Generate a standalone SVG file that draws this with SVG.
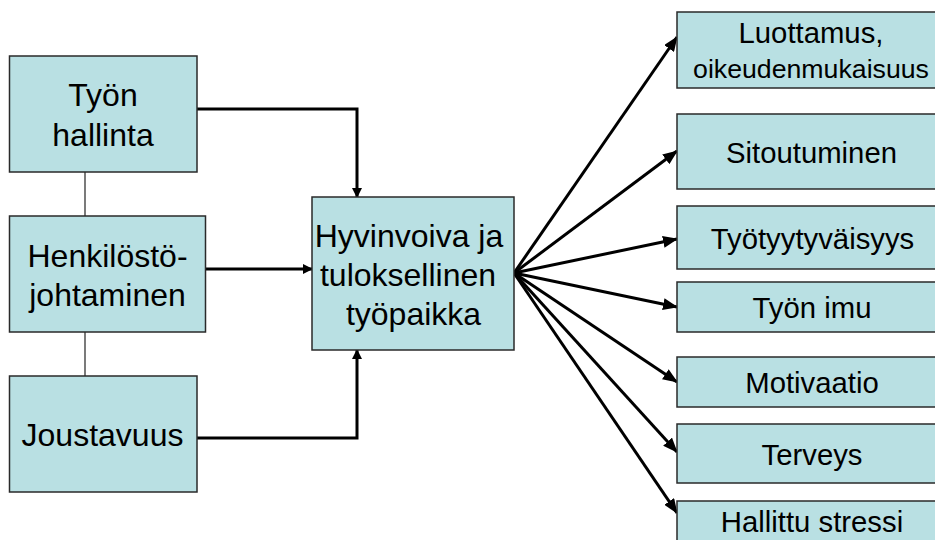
<svg xmlns="http://www.w3.org/2000/svg" width="935" height="540" viewBox="0 0 935 540">
  <style>
    .box { fill: #b9e0e3; stroke: #2a2a2a; stroke-width: 1.5; }
    .big { font-family: "Liberation Sans", Arial, sans-serif; font-size: 32px; fill: #000; text-anchor: middle; }
    .mid { font-family: "Liberation Sans", Arial, sans-serif; font-size: 29.3px; fill: #000; text-anchor: middle; }
    .small { font-family: "Liberation Sans", Arial, sans-serif; font-size: 26.7px; fill: #000; text-anchor: middle; }
    .link { fill: none; stroke: #000; stroke-width: 3; }
    .thin { fill: none; stroke: #333; stroke-width: 1.3; }
  </style>
  <defs>
    <marker id="headS" markerWidth="10" markerHeight="10" refX="9" refY="5" orient="auto" markerUnits="userSpaceOnUse">
      <path d="M0,0 L10,5 L0,10 Z" fill="#000"/>
    </marker>
    <marker id="headL" markerWidth="15" markerHeight="12" refX="14" refY="6" orient="auto" markerUnits="userSpaceOnUse">
      <path d="M0,0 L15,6 L0,12 Z" fill="#000"/>
    </marker>
  </defs>

  <rect width="935" height="540" fill="#fff"/>

  <!-- connectors -->
  <g id="connectors">
    <line class="thin" x1="85" y1="172" x2="85" y2="216"/>
    <line class="thin" x1="85" y1="332" x2="85" y2="376"/>
    <polyline class="link" points="197,109 357,109 357,197" marker-end="url(#headS)"/>
    <line class="link" x1="205.5" y1="269" x2="312" y2="269" marker-end="url(#headS)"/>
    <polyline class="link" points="197,438 357,438 357,350" marker-end="url(#headS)"/>
    <line class="link" x1="514" y1="273" x2="677" y2="37" marker-end="url(#headL)"/>
    <line class="link" x1="514" y1="273" x2="677" y2="151" marker-end="url(#headL)"/>
    <line class="link" x1="514" y1="273" x2="677" y2="239" marker-end="url(#headL)"/>
    <line class="link" x1="514" y1="273" x2="677" y2="307" marker-end="url(#headL)"/>
    <line class="link" x1="514" y1="273" x2="677" y2="382" marker-end="url(#headL)"/>
    <line class="link" x1="514" y1="273" x2="677" y2="452" marker-end="url(#headL)"/>
    <line class="link" x1="514" y1="273" x2="677" y2="513" marker-end="url(#headL)"/>
  </g>

  <!-- left column -->
  <g id="tyon-hallinta">
    <rect class="box" x="9.5" y="56" width="187.5" height="116"/>
    <text class="big" x="103" y="106">Työn</text>
    <text class="big" x="103" y="146">hallinta</text>
  </g>
  <g id="henkilostojohtaminen">
    <rect class="box" x="9.5" y="216" width="196" height="116"/>
    <text class="big" x="107.5" y="266.5">Henkilöstö-</text>
    <text class="big" x="107.5" y="306">johtaminen</text>
  </g>
  <g id="joustavuus">
    <rect class="box" x="9.5" y="376" width="187.5" height="116"/>
    <text class="big" x="102.5" y="445.5">Joustavuus</text>
  </g>

  <!-- centre -->
  <g id="tyopaikka">
    <rect class="box" x="312" y="197" width="202" height="153"/>
    <text class="big" x="409" y="246.5">Hyvinvoiva ja</text>
    <text class="big" x="408" y="286">tuloksellinen</text>
    <text class="big" x="413.5" y="325">työpaikka</text>
  </g>

  <!-- outcomes -->
  <g id="luottamus">
    <rect class="box" x="677" y="12" width="272" height="76"/>
    <text class="mid" x="811" y="43">Luottamus,</text>
    <text class="small" x="811" y="78">oikeudenmukaisuus</text>
  </g>
  <g id="sitoutuminen">
    <rect class="box" x="677" y="114" width="272" height="75"/>
    <text class="mid" x="811.5" y="163">Sitoutuminen</text>
  </g>
  <g id="tyotyytyvaisyys">
    <rect class="box" x="677" y="206" width="272" height="63"/>
    <text class="mid" x="812.5" y="249">Työtyytyväisyys</text>
  </g>
  <g id="tyon-imu">
    <rect class="box" x="677" y="282" width="272" height="50"/>
    <text class="mid" x="812" y="318">Työn imu</text>
  </g>
  <g id="motivaatio">
    <rect class="box" x="677" y="357" width="272" height="50"/>
    <text class="mid" x="812" y="393">Motivaatio</text>
  </g>
  <g id="terveys">
    <rect class="box" x="677" y="424" width="272" height="59"/>
    <text class="mid" x="812" y="465">Terveys</text>
  </g>
  <g id="hallittu-stressi">
    <rect class="box" x="677" y="501" width="272" height="50"/>
    <text class="mid" x="812" y="532">Hallittu stressi</text>
  </g>
</svg>
